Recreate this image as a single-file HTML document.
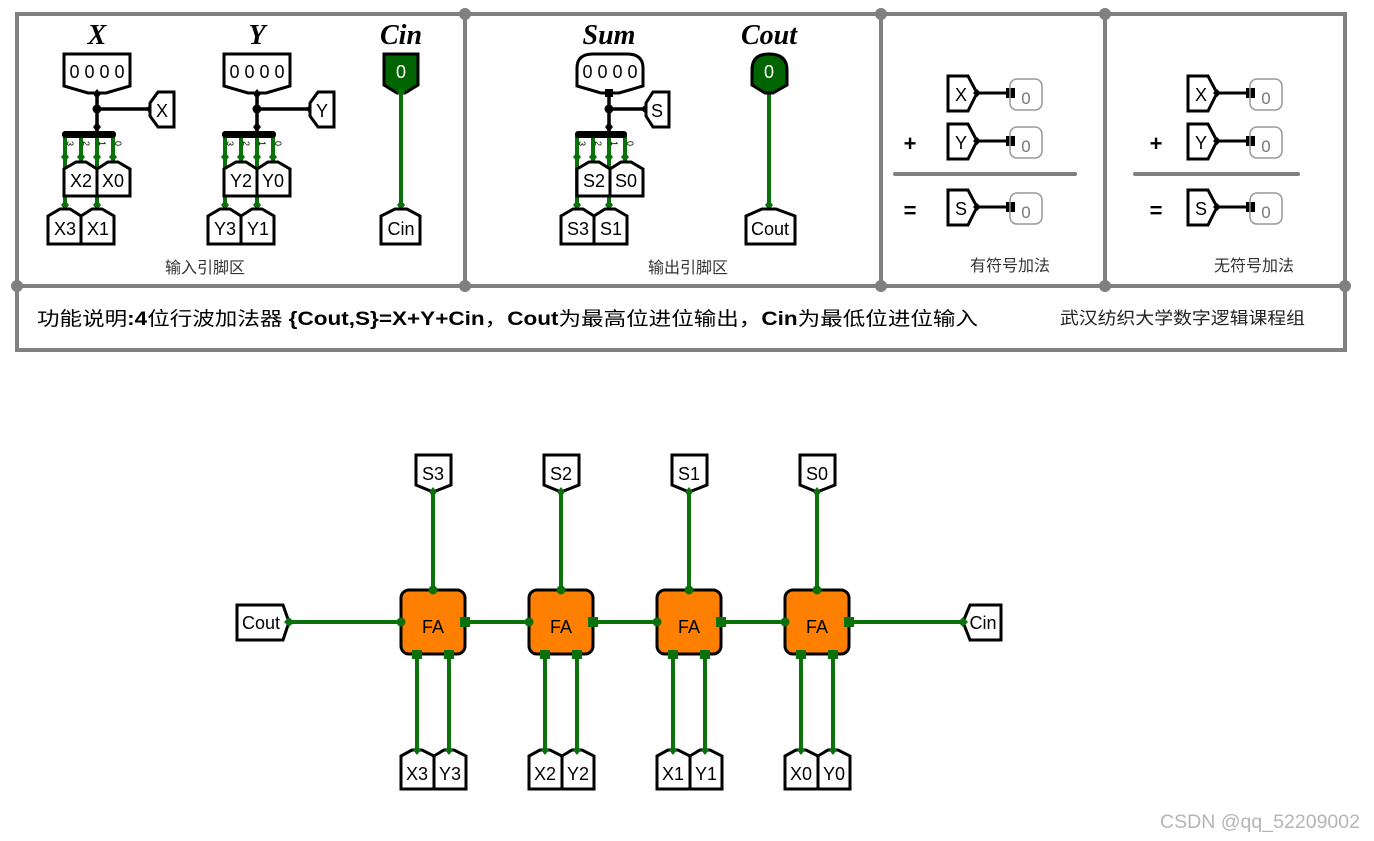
<!DOCTYPE html>
<html><head><meta charset="utf-8"><style>
html,body{margin:0;padding:0;background:#fff;}
svg{display:block;}
text{font-family:"Liberation Sans","Noto Sans CJK SC",sans-serif;}
.t{font-size:18px;text-anchor:middle;fill:#000;}
.ti{font-family:"Liberation Serif",serif;font-style:italic;font-weight:bold;font-size:28px;text-anchor:middle;}
.box{fill:#fff;stroke:#000;stroke-width:3;stroke-linejoin:miter;}
.g{stroke:#0a700a;stroke-width:4;fill:none;}
.gd{fill:#0a700a;}
.k{stroke:#000;stroke-width:3.5;fill:none;}
.cn{font-size:16px;fill:#333;text-anchor:middle;}
</style></head><body>
<svg width="1374" height="841" viewBox="0 0 1374 841" xmlns="http://www.w3.org/2000/svg">
<g stroke="#808080" stroke-width="4" fill="none">
<rect x="17" y="14" width="1328" height="336"/>
<line x1="17" y1="286" x2="1345" y2="286"/>
<line x1="465" y1="14" x2="465" y2="286"/>
<line x1="881" y1="14" x2="881" y2="286"/>
<line x1="1105" y1="14" x2="1105" y2="286"/>
</g>
<g fill="#808080">
<circle cx="465" cy="14" r="6"/><circle cx="881" cy="14" r="6"/><circle cx="1105" cy="14" r="6"/>
<circle cx="17" cy="286" r="6"/><circle cx="1345" cy="286" r="6"/><circle cx="465" cy="286" r="6"/><circle cx="881" cy="286" r="6"/><circle cx="1105" cy="286" r="6"/>
</g>

<g>
<text class="ti" x="97" y="44">X</text>
<polygon class="box" points="64,54 130,54 130,86 106,93 88,93 64,86"/>
<text class="t" x="97" y="78">0 0 0 0</text>
<line class="k" x1="97" y1="93" x2="97" y2="134"/>
<line class="k" x1="97" y1="109" x2="150" y2="109"/>
<circle cx="97" cy="109" r="4.5"/>
<polygon points="97,89 101,94 97,99 93,94"/>
<polygon points="97,122 101,127 97,132 93,127"/>
<polygon points="145,109 150,105 155,109 150,113"/>
<polygon class="box" points="158,92 174,92 174,127 158,127 150,116 150,103"/>
<text class="t" x="162" y="117">X</text>
<g class="g"><line x1="65" y1="136" x2="65" y2="210"/><line x1="81" y1="136" x2="81" y2="162"/><line x1="97" y1="136" x2="97" y2="210"/><line x1="113" y1="136" x2="113" y2="162"/></g>
<rect x="62" y="131" width="54" height="7" rx="3"/>
<g class="gd"><polygon points="65,152 69,157 65,162 61,157"/><polygon points="81,152 85,157 81,162 77,157"/><polygon points="97,152 101,157 97,162 93,157"/><polygon points="113,152 117,157 113,162 109,157"/><polygon points="65,200 69,205 65,210 61,205"/><polygon points="97,200 101,205 97,210 93,205"/></g>
<g font-size="9" fill="#000"><text transform="translate(67,141) rotate(90)">3</text><text transform="translate(83,141) rotate(90)">2</text><text transform="translate(99,141) rotate(90)">1</text><text transform="translate(115,141) rotate(90)">0</text></g>
<polygon class="box" points="64,169 76,162 86,162 97,169 97,196 64,196"/>
<polygon class="box" points="97,169 108,162 118,162 130,169 130,196 97,196"/>
<text class="t" x="81" y="187">X2</text><text class="t" x="113" y="187">X0</text>
<polygon class="box" points="48,216 60,209 70,209 81,216 81,244 48,244"/>
<polygon class="box" points="81,216 92,209 102,209 114,216 114,244 81,244"/>
<text class="t" x="65" y="235">X3</text><text class="t" x="98" y="235">X1</text>
</g>

<g transform="translate(160,0)">
<text class="ti" x="97" y="44">Y</text>
<polygon class="box" points="64,54 130,54 130,86 106,93 88,93 64,86"/>
<text class="t" x="97" y="78">0 0 0 0</text>
<line class="k" x1="97" y1="93" x2="97" y2="134"/>
<line class="k" x1="97" y1="109" x2="150" y2="109"/>
<circle cx="97" cy="109" r="4.5"/>
<polygon points="97,89 101,94 97,99 93,94"/>
<polygon points="97,122 101,127 97,132 93,127"/>
<polygon points="145,109 150,105 155,109 150,113"/>
<polygon class="box" points="158,92 174,92 174,127 158,127 150,116 150,103"/>
<text class="t" x="162" y="117">Y</text>
<g class="g"><line x1="65" y1="136" x2="65" y2="210"/><line x1="81" y1="136" x2="81" y2="162"/><line x1="97" y1="136" x2="97" y2="210"/><line x1="113" y1="136" x2="113" y2="162"/></g>
<rect x="62" y="131" width="54" height="7" rx="3"/>
<g class="gd"><polygon points="65,152 69,157 65,162 61,157"/><polygon points="81,152 85,157 81,162 77,157"/><polygon points="97,152 101,157 97,162 93,157"/><polygon points="113,152 117,157 113,162 109,157"/><polygon points="65,200 69,205 65,210 61,205"/><polygon points="97,200 101,205 97,210 93,205"/></g>
<g font-size="9" fill="#000"><text transform="translate(67,141) rotate(90)">3</text><text transform="translate(83,141) rotate(90)">2</text><text transform="translate(99,141) rotate(90)">1</text><text transform="translate(115,141) rotate(90)">0</text></g>
<polygon class="box" points="64,169 76,162 86,162 97,169 97,196 64,196"/>
<polygon class="box" points="97,169 108,162 118,162 130,169 130,196 97,196"/>
<text class="t" x="81" y="187">Y2</text><text class="t" x="113" y="187">Y0</text>
<polygon class="box" points="48,216 60,209 70,209 81,216 81,244 48,244"/>
<polygon class="box" points="81,216 92,209 102,209 114,216 114,244 81,244"/>
<text class="t" x="65" y="235">Y3</text><text class="t" x="98" y="235">Y1</text>
</g>

<text class="ti" x="401" y="44">Cin</text>
<line class="g" x1="401" y1="92" x2="401" y2="210"/>
<polygon points="384,54 418,54 418,85 405,93 397,93 384,85" fill="#006400" stroke="#000" stroke-width="3"/>
<text class="t" x="401" y="78" style="fill:#fff">0</text>
<polygon class="gd" points="401,87 405,92 401,97 397,92"/>
<polygon class="gd" points="401,200 405,205 401,210 397,205"/>
<polygon class="box" points="381,216 395,209 407,209 420,216 420,244 381,244"/>
<text class="t" x="401" y="235">Cin</text>
<text class="cn" x="205" y="273">输入引脚区</text>

<g transform="translate(513,0)">
<text class="ti" x="96" y="44">Sum</text>
<path class="box" d="M64,86 V68 Q64,54 80,54 H114 Q130,54 130,68 V86 L106,93 H88 Z"/>
<text class="t" x="97" y="78">0 0 0 0</text>
<line class="k" x1="96" y1="93" x2="96" y2="134"/>
<line class="k" x1="96" y1="109" x2="130" y2="109"/>
<rect x="92" y="89" width="8" height="8"/>
<circle cx="96" cy="109" r="4.5"/>
<polygon points="96,122 100,127 96,132 92,127"/>
<polygon points="127,109 132,105 137,109 132,113"/>
<polygon class="box" points="140,92 156,92 156,127 140,127 133,116 133,103"/>
<text class="t" x="144" y="117">S</text>
<g class="g"><line x1="64" y1="136" x2="64" y2="210"/><line x1="80" y1="136" x2="80" y2="162"/><line x1="96" y1="136" x2="96" y2="210"/><line x1="112" y1="136" x2="112" y2="162"/></g>
<rect x="62" y="131" width="52" height="7" rx="3"/>
<g class="gd"><polygon points="64,152 68,157 64,162 60,157"/><polygon points="80,152 84,157 80,162 76,157"/><polygon points="96,152 100,157 96,162 92,157"/><polygon points="112,152 116,157 112,162 108,157"/><polygon points="64,200 68,205 64,210 60,205"/><polygon points="96,200 100,205 96,210 92,205"/></g>
<g font-size="9" fill="#000"><text transform="translate(66,141) rotate(90)">3</text><text transform="translate(82,141) rotate(90)">2</text><text transform="translate(98,141) rotate(90)">1</text><text transform="translate(114,141) rotate(90)">0</text></g>
<polygon class="box" points="64,169 76,162 86,162 97,169 97,196 64,196"/>
<polygon class="box" points="97,169 108,162 118,162 130,169 130,196 97,196"/>
<text class="t" x="81" y="187">S2</text><text class="t" x="113" y="187">S0</text>
<polygon class="box" points="48,216 60,209 70,209 81,216 81,244 48,244"/>
<polygon class="box" points="81,216 92,209 102,209 114,216 114,244 81,244"/>
<text class="t" x="65" y="235">S3</text><text class="t" x="98" y="235">S1</text>
</g>

<text class="ti" x="769" y="44">Cout</text>
<line class="g" x1="769" y1="92" x2="769" y2="210"/>
<path d="M752,85 V70 Q752,54 769,54 Q787,54 787,70 V85 L773,93 H765 Z" fill="#006400" stroke="#000" stroke-width="3"/>
<text class="t" x="769" y="78" style="fill:#fff">0</text>
<polygon class="gd" points="769,200 773,205 769,210 765,205"/>
<polygon class="box" points="746,216 762,209 776,209 795,216 795,244 746,244"/>
<text class="t" x="770" y="235">Cout</text>
<text class="cn" x="688" y="273">输出引脚区</text>

<g>
<line x1="895" y1="174" x2="1075" y2="174" stroke="#808080" stroke-width="4" stroke-linecap="round"/>
<text x="910" y="151" font-size="22" font-weight="bold" text-anchor="middle">+</text>
<text x="910" y="218" font-size="22" font-weight="bold" text-anchor="middle">=</text>
<g>
<polygon class="box" points="948,76 968,76 977,93 968,111 948,111"/><text class="t" x="961" y="101">X</text>
<line x1="977" y1="93" x2="1012" y2="93" stroke="#000" stroke-width="3"/><polygon points="977,89 981,93 977,97 973,93"/><rect x="1006" y="88" width="9" height="10"/>
<rect x="1010" y="79" width="32" height="31" rx="7" fill="none" stroke="#999" stroke-width="1.5"/><text x="1026" y="104" font-size="17" fill="#777" text-anchor="middle">0</text>
</g>
<g transform="translate(0,48)">
<polygon class="box" points="948,76 968,76 977,93 968,111 948,111"/><text class="t" x="961" y="101">Y</text>
<line x1="977" y1="93" x2="1012" y2="93" stroke="#000" stroke-width="3"/><polygon points="977,89 981,93 977,97 973,93"/><rect x="1006" y="88" width="9" height="10"/>
<rect x="1010" y="79" width="32" height="31" rx="7" fill="none" stroke="#999" stroke-width="1.5"/><text x="1026" y="104" font-size="17" fill="#777" text-anchor="middle">0</text>
</g>
<g transform="translate(0,114)">
<polygon class="box" points="948,76 968,76 977,93 968,111 948,111"/><text class="t" x="961" y="101">S</text>
<line x1="977" y1="93" x2="1012" y2="93" stroke="#000" stroke-width="3"/><polygon points="977,89 981,93 977,97 973,93"/><rect x="1006" y="88" width="9" height="10"/>
<rect x="1010" y="79" width="32" height="31" rx="7" fill="none" stroke="#999" stroke-width="1.5"/><text x="1026" y="104" font-size="17" fill="#777" text-anchor="middle">0</text>
</g>
<text class="cn" x="1010" y="271">有符号加法</text>
</g>
<g transform="translate(240,0)">
<line x1="895" y1="174" x2="1058" y2="174" stroke="#808080" stroke-width="4" stroke-linecap="round"/>
<text x="916" y="151" font-size="22" font-weight="bold" text-anchor="middle">+</text>
<text x="916" y="218" font-size="22" font-weight="bold" text-anchor="middle">=</text>
<g>
<polygon class="box" points="948,76 968,76 977,93 968,111 948,111"/><text class="t" x="961" y="101">X</text>
<line x1="977" y1="93" x2="1012" y2="93" stroke="#000" stroke-width="3"/><polygon points="977,89 981,93 977,97 973,93"/><rect x="1006" y="88" width="9" height="10"/>
<rect x="1010" y="79" width="32" height="31" rx="7" fill="none" stroke="#999" stroke-width="1.5"/><text x="1026" y="104" font-size="17" fill="#777" text-anchor="middle">0</text>
</g>
<g transform="translate(0,48)">
<polygon class="box" points="948,76 968,76 977,93 968,111 948,111"/><text class="t" x="961" y="101">Y</text>
<line x1="977" y1="93" x2="1012" y2="93" stroke="#000" stroke-width="3"/><polygon points="977,89 981,93 977,97 973,93"/><rect x="1006" y="88" width="9" height="10"/>
<rect x="1010" y="79" width="32" height="31" rx="7" fill="none" stroke="#999" stroke-width="1.5"/><text x="1026" y="104" font-size="17" fill="#777" text-anchor="middle">0</text>
</g>
<g transform="translate(0,114)">
<polygon class="box" points="948,76 968,76 977,93 968,111 948,111"/><text class="t" x="961" y="101">S</text>
<line x1="977" y1="93" x2="1012" y2="93" stroke="#000" stroke-width="3"/><polygon points="977,89 981,93 977,97 973,93"/><rect x="1006" y="88" width="9" height="10"/>
<rect x="1010" y="79" width="32" height="31" rx="7" fill="none" stroke="#999" stroke-width="1.5"/><text x="1026" y="104" font-size="17" fill="#777" text-anchor="middle">0</text>
</g>
<text class="cn" x="1014" y="271">无符号加法</text>
</g>

<text x="37" y="325" font-size="19" fill="#000" textLength="941" lengthAdjust="spacingAndGlyphs">功能说明<tspan font-weight="bold">:4</tspan>位行波加法器 <tspan font-weight="bold">{Cout,S}=X+Y+Cin</tspan>，<tspan font-weight="bold">Cout</tspan>为最高位进位输出，<tspan font-weight="bold">Cin</tspan>为最低位进位输入</text>
<text x="1060" y="324" font-size="17" fill="#222" textLength="245" lengthAdjust="spacingAndGlyphs">武汉纺织大学数字逻辑课程组</text>

<line class="g" x1="289" y1="622" x2="963" y2="622"/>
<polygon class="box" points="237,605 283,605 289,622 283,640 237,640"/>
<text class="t" x="261" y="629" font-size="17">Cout</text>
<polygon class="gd" points="289,617 294,622 289,627 284,622"/>
<polygon class="box" points="970,605 1001,605 1001,640 970,640 963,622"/>
<text class="t" x="983" y="629" font-size="17">Cin</text>
<polygon class="gd" points="963,617 968,622 963,627 958,622"/>

<g>
<line class="g" x1="433" y1="493" x2="433" y2="590"/>
<line class="g" x1="417" y1="655" x2="417" y2="750"/>
<line class="g" x1="449" y1="655" x2="449" y2="750"/>
<polygon class="box" points="416,455 451,455 451,485 433,492 416,485"/>
<text class="t" x="433" y="480">S3</text>
<polygon class="gd" points="433,487 437,492 433,497 429,492"/>
<rect x="401" y="590" width="64" height="64" rx="8" fill="#ff8000" stroke="#000" stroke-width="3"/>
<text class="t" x="433" y="633">FA</text>
<circle class="gd" cx="433" cy="590" r="4.5"/><circle class="gd" cx="401" cy="622" r="4.5"/>
<rect class="gd" x="460" y="617" width="10" height="10"/>
<rect class="gd" x="412" y="650" width="10" height="9"/><rect class="gd" x="444" y="650" width="10" height="9"/>
<polygon class="box" points="401,756 412,750 422,750 434,756 434,789 401,789"/>
<polygon class="box" points="434,756 444,750 454,750 466,756 466,789 434,789"/>
<polygon class="gd" points="417,745 421,750 417,755 413,750"/><polygon class="gd" points="449,745 453,750 449,755 445,750"/>
<text class="t" x="417" y="780">X3</text><text class="t" x="450" y="780">Y3</text>
</g>
<g transform="translate(128,0)">
<line class="g" x1="433" y1="493" x2="433" y2="590"/>
<line class="g" x1="417" y1="655" x2="417" y2="750"/>
<line class="g" x1="449" y1="655" x2="449" y2="750"/>
<polygon class="box" points="416,455 451,455 451,485 433,492 416,485"/>
<text class="t" x="433" y="480">S2</text>
<polygon class="gd" points="433,487 437,492 433,497 429,492"/>
<rect x="401" y="590" width="64" height="64" rx="8" fill="#ff8000" stroke="#000" stroke-width="3"/>
<text class="t" x="433" y="633">FA</text>
<circle class="gd" cx="433" cy="590" r="4.5"/><circle class="gd" cx="401" cy="622" r="4.5"/>
<rect class="gd" x="460" y="617" width="10" height="10"/>
<rect class="gd" x="412" y="650" width="10" height="9"/><rect class="gd" x="444" y="650" width="10" height="9"/>
<polygon class="box" points="401,756 412,750 422,750 434,756 434,789 401,789"/>
<polygon class="box" points="434,756 444,750 454,750 466,756 466,789 434,789"/>
<polygon class="gd" points="417,745 421,750 417,755 413,750"/><polygon class="gd" points="449,745 453,750 449,755 445,750"/>
<text class="t" x="417" y="780">X2</text><text class="t" x="450" y="780">Y2</text>
</g>
<g transform="translate(256,0)">
<line class="g" x1="433" y1="493" x2="433" y2="590"/>
<line class="g" x1="417" y1="655" x2="417" y2="750"/>
<line class="g" x1="449" y1="655" x2="449" y2="750"/>
<polygon class="box" points="416,455 451,455 451,485 433,492 416,485"/>
<text class="t" x="433" y="480">S1</text>
<polygon class="gd" points="433,487 437,492 433,497 429,492"/>
<rect x="401" y="590" width="64" height="64" rx="8" fill="#ff8000" stroke="#000" stroke-width="3"/>
<text class="t" x="433" y="633">FA</text>
<circle class="gd" cx="433" cy="590" r="4.5"/><circle class="gd" cx="401" cy="622" r="4.5"/>
<rect class="gd" x="460" y="617" width="10" height="10"/>
<rect class="gd" x="412" y="650" width="10" height="9"/><rect class="gd" x="444" y="650" width="10" height="9"/>
<polygon class="box" points="401,756 412,750 422,750 434,756 434,789 401,789"/>
<polygon class="box" points="434,756 444,750 454,750 466,756 466,789 434,789"/>
<polygon class="gd" points="417,745 421,750 417,755 413,750"/><polygon class="gd" points="449,745 453,750 449,755 445,750"/>
<text class="t" x="417" y="780">X1</text><text class="t" x="450" y="780">Y1</text>
</g>
<g transform="translate(384,0)">
<line class="g" x1="433" y1="493" x2="433" y2="590"/>
<line class="g" x1="417" y1="655" x2="417" y2="750"/>
<line class="g" x1="449" y1="655" x2="449" y2="750"/>
<polygon class="box" points="416,455 451,455 451,485 433,492 416,485"/>
<text class="t" x="433" y="480">S0</text>
<polygon class="gd" points="433,487 437,492 433,497 429,492"/>
<rect x="401" y="590" width="64" height="64" rx="8" fill="#ff8000" stroke="#000" stroke-width="3"/>
<text class="t" x="433" y="633">FA</text>
<circle class="gd" cx="433" cy="590" r="4.5"/><circle class="gd" cx="401" cy="622" r="4.5"/>
<rect class="gd" x="460" y="617" width="10" height="10"/>
<rect class="gd" x="412" y="650" width="10" height="9"/><rect class="gd" x="444" y="650" width="10" height="9"/>
<polygon class="box" points="401,756 412,750 422,750 434,756 434,789 401,789"/>
<polygon class="box" points="434,756 444,750 454,750 466,756 466,789 434,789"/>
<polygon class="gd" points="417,745 421,750 417,755 413,750"/><polygon class="gd" points="449,745 453,750 449,755 445,750"/>
<text class="t" x="417" y="780">X0</text><text class="t" x="450" y="780">Y0</text>
</g>

<text x="1160" y="828" font-size="19" fill="#b5b5b5" textLength="200" lengthAdjust="spacingAndGlyphs">CSDN @qq_52209002</text>
</svg>
</body></html>
